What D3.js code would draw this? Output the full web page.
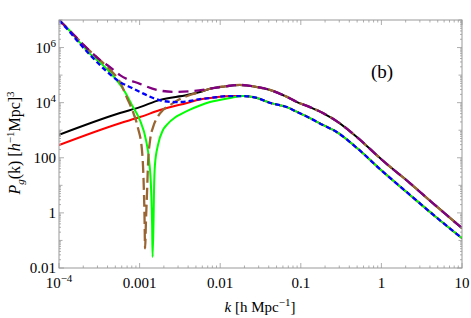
<!DOCTYPE html>
<html lang="en">
<head>
<meta charset="UTF-8">
<title>Pg(k)</title>
<script src="https://cdnjs.cloudflare.com/ajax/libs/d3/7.8.5/d3.min.js"></script>
<style>
    body { margin: 0; background: #fff; }
    svg { font-family: "Liberation Serif", "DejaVu Serif", serif; }
</style>
</head>
<body>
<script>

// tick labels ([base, superscript])
const xTickValues = [1e-4, 1e-3, 1e-2, 1e-1, 1, 10];
const xTickLabels = [["10", "\u22124"], ["0.001"], ["0.01"], ["0.1"], ["1"], ["10"]];
const yTickValues = [1e-2, 1, 1e2, 1e4, 1e6];
const yTickLabels = [["0.01"], ["1"], ["100"], ["10", "4"], ["10", "6"]];

// curves, [k, P]
const upperTail = [[7.46e-3, 3.2e4], [1.15e-2, 3.9e4], [1.76e-2, 4.4e4], [2.86e-2, 3.7e4],
    [4.15e-2, 2.9e4], [6.75e-2, 1.62e4], [8.97e-2, 1.05e4], [0.130, 6.9e3], [0.188, 4.2e3],
    [0.281, 2.1e3], [0.498, 560], [1.02, 83], [2.26, 12], [4.75, 1.8], [10, 0.28]];

const lowerTail = [[7.46e-3, 1.48e4], [1.32e-2, 1.74e4], [1.92e-2, 1.74e4], [2.86e-2, 1.48e4],
    [4.15e-2, 9.8e3], [6.75e-2, 6.9e3], [8.97e-2, 4.6e3], [0.130, 2.75e3], [0.188, 1.55e3],
    [0.281, 850], [0.498, 225], [1.02, 33], [2.26, 4.5], [4.75, 0.71], [10, 0.12]];

const blackHead = [[1e-4, 680], [5.71e-4, 4.2e3], [1.01e-3, 6.9e3], [1.79e-3, 1.26e4],
    [3.87e-3, 1.9e4], [5.61e-3, 2.45e4]];

const redHead = [[1e-4, 290], [5.71e-4, 1.8e3], [1.01e-3, 3.0e3], [1.79e-3, 5.4e3],
    [3.87e-3, 9.8e3], [5.61e-3, 1.3e4]];

const greenHead = [[1e-4, 1e7], [1.37e-4, 4.0e6], [1.82e-4, 1.5e6], [2.43e-4, 5.9e5],
    [3.72e-4, 1.95e5], [4.95e-4, 7.8e4], [6.59e-4, 2.45e4], [8.05e-4, 8.1e3], [1.01e-3, 2.3e3],
    [1.20e-3, 440], [1.31e-3, 83], [1.39e-3, 6.8], [1.43e-3, 0.36], [1.45e-3, 0.025],
    [1.49e-3, 0.55], [1.51e-3, 6.8], [1.55e-3, 55], [1.69e-3, 290], [1.95e-3, 1.02e3],
    [2.19e-3, 1.6e3], [2.75e-3, 2.9e3], [3.17e-3, 3.7e3], [4.22e-3, 5.6e3], [5.61e-3, 7.9e3],
    [7.46e-3, 1.05e4], [1.32e-2, 1.48e4], [1.92e-2, 1.74e4]];

const brownHead = [[1e-4, 1e7], [1.37e-4, 4.0e6], [1.82e-4, 1.7e6], [2.43e-4, 7.4e5],
    [3.23e-4, 3.5e5], [4.30e-4, 1.55e5], [5.71e-4, 5.6e4], [6.98e-4, 1.48e4], [8.28e-4, 4.6e3],
    [9.55e-4, 1.2e3], [1.07e-3, 190], [1.12e-3, 15.5], [1.15e-3, 0.83], [1.17e-3, 0.052],
    [1.20e-3, 0.55], [1.24e-3, 6.8], [1.27e-3, 55], [1.35e-3, 440], [1.47e-3, 1.3e3],
    [1.64e-3, 2.75e3], [1.95e-3, 5.4e3], [2.38e-3, 8.1e3], [3.17e-3, 1.35e4], [4.22e-3, 1.9e4],
    [5.61e-3, 2.45e4]];

const purpleHead = [[1e-4, 1e7], [1.37e-4, 4.0e6], [1.82e-4, 1.7e6], [2.43e-4, 7.4e5],
    [3.23e-4, 3.5e5], [4.30e-4, 1.95e5], [5.71e-4, 1.0e5], [1.01e-3, 4.8e4], [1.64e-3, 2.9e4],
    [2.75e-3, 2.45e4], [4.22e-3, 2.6e4]];

const blueHead = [[1e-4, 1e7], [1.37e-4, 3.6e6], [1.82e-4, 1.35e6], [2.43e-4, 5.4e5],
    [3.72e-4, 1.55e5], [5.71e-4, 5.6e4], [8.05e-4, 3.4e4], [1.01e-3, 2.45e4], [1.47e-3, 1.48e4],
    [1.95e-3, 1.15e4], [2.91e-3, 1.05e4], [4.22e-3, 1.15e4], [5.61e-3, 1.35e4]];


let width = 471, height = 318;
let plotLeft = 59, plotRight = 462, plotTop = 20, plotBottom = 268;

let x = d3.scaleLog().domain([1e-4, 10]).range([plotLeft, plotRight]);
let y = d3.scaleLog().domain([0.01, 1e7]).range([plotBottom, plotTop]);

let svg = d3.select('body').append('svg')
    .attr('width', width)
    .attr('height', height);

svg.append('clipPath').attr('id', 'plot')
    .append('rect')
    .attr('x', plotLeft).attr('y', plotTop)
    .attr('width', plotRight - plotLeft).attr('height', plotBottom - plotTop);

let line = d3.line()
    .x(d => x(d[0]))
    .y(d => y(d[1]))
    .curve(d3.curveMonotoneX);

let series = [
    {name: 'black', data: blackHead.concat(upperTail), color: '#000000', width: 2, dash: null},
    {name: 'red', data: redHead.concat(lowerTail), color: '#ff0000', width: 2, dash: null},
    {name: 'green', data: greenHead.concat(lowerTail.filter(d => d[0] > 0.02)), color: '#00ff00', width: 2, dash: null},
    {name: 'brown', data: brownHead.concat(upperTail), color: '#996633', width: 2.3, dash: '12,5'},
    {name: 'purple', data: purpleHead.concat(upperTail), color: '#800080', width: 2.3, dash: '10,6'},
    {name: 'blue', data: blueHead.concat(lowerTail), color: '#0000ff', width: 2.3, dash: '5,3'}
];

let curves = svg.append('g').attr('clip-path', 'url(#plot)');
curves.selectAll('path')
    .data(series)
    .enter()
    .append('path')
    .attr('d', d => line(d.data))
    .attr('fill', 'none')
    .attr('stroke', d => d.color)
    .attr('stroke-width', d => d.width)
    .attr('stroke-dasharray', d => d.dash);

// frame and ticks
let frameColor = '#999';
svg.append('rect')
    .attr('x', plotLeft).attr('y', plotTop)
    .attr('width', plotRight - plotLeft).attr('height', plotBottom - plotTop)
    .attr('fill', 'none')
    .attr('stroke', frameColor)
    .attr('stroke-width', 1);

let ticks = svg.append('g').attr('stroke', frameColor).attr('stroke-width', 0.8);

for (let e = -4; e <= 1; e++) {
    for (let m = 1; m <= 9; m++) {
        let v = m * Math.pow(10, e);
        if (v > 10.0001) continue;
        let len = m === 1 ? 5 : 2.5;
        let px = x(v);
        ticks.append('line').attr('x1', px).attr('x2', px).attr('y1', plotBottom).attr('y2', plotBottom - len);
        ticks.append('line').attr('x1', px).attr('x2', px).attr('y1', plotTop).attr('y2', plotTop + len);
    }
}
for (let e = -2; e <= 7; e++) {
    for (let m = 1; m <= 9; m++) {
        let v = m * Math.pow(10, e);
        if (v > 1.0001e7) continue;
        let len = m === 1 ? (e % 2 === 0 ? 5 : 3.5) : 2;
        let py = y(v);
        ticks.append('line').attr('y1', py).attr('y2', py).attr('x1', plotLeft).attr('x2', plotLeft + len);
        ticks.append('line').attr('y1', py).attr('y2', py).attr('x1', plotRight).attr('x2', plotRight - len);
    }
}

// tick labels
function addLabel(g, parts) {
    g.append('tspan').text(parts[0]);
    if (parts.length > 1) {
        g.append('tspan').attr('dy', -6).attr('font-size', 11).text(parts[1]);
    }
}

xTickValues.forEach(function (v, i) {
    let t = svg.append('text')
        .attr('x', x(v))
        .attr('y', 288)
        .attr('text-anchor', 'middle')
        .attr('font-size', 15)
        .attr('fill', '#000');
    addLabel(t, xTickLabels[i]);
});

yTickValues.forEach(function (v, i) {
    let t = svg.append('text')
        .attr('x', 56)
        .attr('y', y(v) + 5)
        .attr('text-anchor', 'end')
        .attr('font-size', 15)
        .attr('fill', '#000');
    addLabel(t, yTickLabels[i]);
});

// axis titles
let xt = svg.append('text')
    .attr('x', 260)
    .attr('y', 312)
    .attr('text-anchor', 'middle')
    .attr('font-size', 15);
xt.append('tspan').attr('font-style', 'italic').text('k');
xt.append('tspan').text(' [h Mpc');
xt.append('tspan').attr('dy', -6).attr('font-size', 11).text('\u22121');
xt.append('tspan').attr('dy', 6).text(']');

let yt = svg.append('text')
    .attr('transform', 'translate(20,143) rotate(-90)')
    .attr('text-anchor', 'middle')
    .attr('font-size', 16);
yt.append('tspan').attr('font-style', 'italic').text('P');
yt.append('tspan').attr('dy', 4).attr('font-size', 11).attr('font-style', 'italic').text('g');
yt.append('tspan').attr('dy', -4).text('(k) [');
yt.append('tspan').attr('font-style', 'italic').text('h');
yt.append('tspan').attr('dy', -6).attr('font-size', 11).text('\u22121');
yt.append('tspan').attr('dy', 6).text('Mpc]');
yt.append('tspan').attr('dy', -6).attr('font-size', 11).text('3');

svg.append('text')
    .attr('x', 382)
    .attr('y', 78)
    .attr('text-anchor', 'middle')
    .attr('font-size', 19)
    .text('(b)');

</script>
</body>
</html>
